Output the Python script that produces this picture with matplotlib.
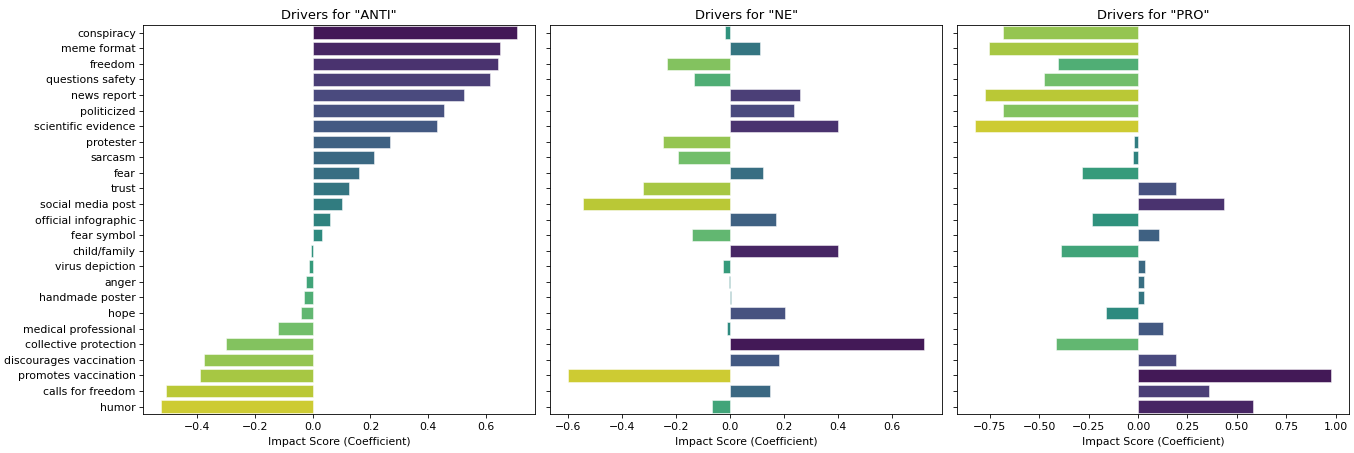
import matplotlib
matplotlib.use("Agg")
import matplotlib.pyplot as plt
import seaborn as sns
import numpy as np

features = ["conspiracy", "meme format", "freedom", "questions safety", "news report",
            "politicized", "scientific evidence", "protester", "sarcasm", "fear", "trust",
            "social media post", "official infographic", "fear symbol", "child/family",
            "virus depiction", "anger", "handmade poster", "hope", "medical professional",
            "collective protection", "discourages vaccination", "promotes vaccination",
            "calls for freedom", "humor"]

anti = [0.708, 0.648, 0.642, 0.615, 0.523, 0.456, 0.430, 0.267, 0.214, 0.161, 0.126,
        0.102, 0.061, 0.033, -0.006, -0.011, -0.024, -0.029, -0.039, -0.120, -0.301,
        -0.377, -0.390, -0.507, -0.525]

ne = [-0.017, 0.113, -0.234, -0.133, 0.260, 0.237, 0.398, -0.249, -0.193, 0.121, -0.321,
      -0.542, 0.172, -0.141, 0.399, -0.026, -0.004, 0.003, 0.202, -0.012, 0.718, 0.180,
      -0.598, 0.147, -0.065]

pro = [-0.685, -0.756, -0.406, -0.476, -0.774, -0.684, -0.825, -0.019, -0.024, -0.283,
       0.190, 0.434, -0.232, 0.106, -0.390, 0.035, 0.029, 0.028, -0.163, 0.128, -0.416,
       0.191, 0.978, 0.357, 0.582]

classes = ["ANTI", "NE", "PRO"]
series = [anti, ne, pro]

fig, axes = plt.subplots(1, 3, figsize=(13.54, 4.53), dpi=100, sharey=True)
fig.subplots_adjust(left=0.1058, right=0.9963, top=0.945, bottom=0.0854, wspace=0.0395)

n = len(features)
base = sns.color_palette("viridis", n)
base = [sns.desaturate(c, 0.75) for c in base]
ypos = np.arange(n)

for ax, cls, vals in zip(axes, classes, series):
    vals = np.asarray(vals)
    order = np.argsort(-vals, kind="stable")
    colors = [None] * n
    for rank, idx in enumerate(order):
        colors[idx] = base[rank]
    ax.barh(ypos, vals, height=0.8, color=colors, edgecolor=(1, 1, 1, 0.5), linewidth=0.7)
    ax.set_title(f'Drivers for "{cls}"', fontsize=9.4, pad=4.5)
    ax.set_xlabel("Impact Score (Coefficient)", fontsize=7.8, labelpad=3.5)
    ax.tick_params(axis="both", labelsize=7.8, length=2.8, width=0.6, pad=2.6)
    for s in ax.spines.values():
        s.set_linewidth(0.6)

axes[0].set_yticks(ypos)
axes[0].set_yticklabels(features)
axes[0].set_ylim(n - 0.5, -0.5)

fig.savefig("out.png", dpi=100)
